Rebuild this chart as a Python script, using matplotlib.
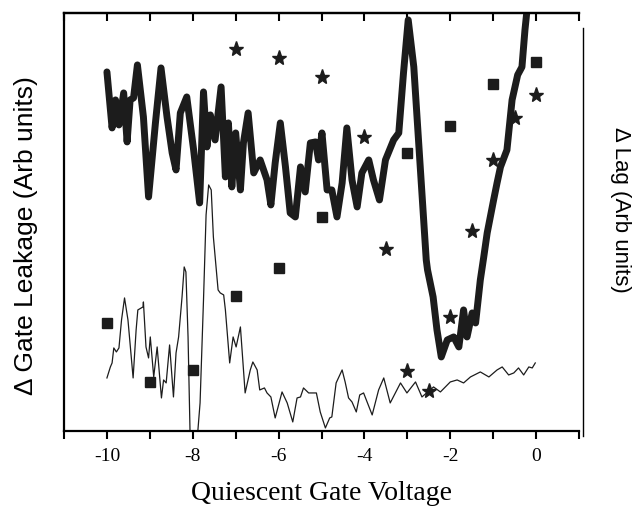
import matplotlib
matplotlib.use('Agg')
import matplotlib.pyplot as plt
import numpy as np

# thick curve: gate leakage (arb units)
leak_v = [-10.0, -9.88, -9.80, -9.72, -9.61, -9.53, -9.46, -9.38, -9.29, -9.15,
          -9.03, -8.87, -8.74, -8.60, -8.48, -8.39, -8.29, -8.14, -7.98, -7.84,
          -7.75, -7.67, -7.59, -7.48, -7.34, -7.24, -7.17, -7.09, -7.00, -6.89,
          -6.82, -6.71, -6.58, -6.43, -6.27, -6.18, -6.08, -5.96, -5.84, -5.73,
          -5.61, -5.49, -5.38, -5.26, -5.14, -5.07, -4.99, -4.87, -4.76, -4.64,
          -4.52, -4.41, -4.29, -4.17, -4.06, -3.90, -3.79, -3.65, -3.51, -3.32,
          -3.20, -3.09, -2.98, -2.85, -2.70, -2.56, -2.53, -2.40, -2.31, -2.21,
          -2.07, -1.92, -1.80, -1.69, -1.61, -1.49, -1.41, -1.30, -1.22, -1.14,
          -0.99, -0.91, -0.83, -0.68, -0.56, -0.43, -0.33, -0.26, -0.20]
leak = [359, 303, 331, 306, 338, 289, 331, 333, 366, 314,
        234, 308, 363, 314, 278, 261, 318, 334, 281, 228,
        339, 284, 316, 291, 344, 254, 308, 244, 298, 241,
        288, 318, 258, 271, 251, 226, 268, 308, 264, 218,
        214, 264, 239, 288, 289, 271, 298, 241, 241, 214,
        248, 303, 251, 224, 258, 271, 251, 231, 271, 291,
        298, 358, 411, 364, 264, 171, 161, 134, 101, 74,
        91, 94, 84, 121, 94, 118, 108, 151, 174, 198,
        231, 248, 264, 281, 331, 356, 364, 401, 426]

# thin curve
thin_v = [-10.0, -9.92, -9.88, -9.84, -9.78, -9.72, -9.66, -9.59, -9.51, -9.39,
          -9.32, -9.28, -9.16, -9.15, -9.09, -9.03, -8.99, -8.91, -8.83, -8.73,
          -8.68, -8.62, -8.54, -8.45, -8.39, -8.33, -8.25, -8.20, -8.16, -8.11,
          -8.06, -7.94, -7.88, -7.83, -7.75, -7.69, -7.63, -7.57, -7.52, -7.41,
          -7.36, -7.28, -7.24, -7.14, -7.06, -6.99, -6.89, -6.78, -6.66, -6.60,
          -6.50, -6.44, -6.33, -6.27, -6.18, -6.08, -5.92, -5.80, -5.67, -5.57,
          -5.49, -5.42, -5.30, -5.12, -5.03, -4.91, -4.81, -4.76, -4.66, -4.52,
          -4.45, -4.37, -4.29, -4.19, -4.11, -4.02, -3.82, -3.67, -3.55, -3.40,
          -3.16, -3.01, -2.81, -2.66, -2.39, -2.23, -2.00, -1.84, -1.69, -1.53,
          -1.30, -1.10, -0.91, -0.79, -0.64, -0.52, -0.41, -0.29, -0.17, -0.09,
          -0.02]
thin = [53, 64, 68, 83, 79, 83, 111, 133, 111, 53,
        101, 121, 124, 129, 84, 73, 94, 54, 84, 33,
        51, 48, 86, 34, 78, 94, 134, 164, 159, 94,
        -9, -29, 1, 28, 131, 216, 246, 241, 194, 141,
        138, 136, 121, 68, 94, 84, 104, 38, 61, 69,
        61, 41, 43, 38, 34, 13, 39, 28, 9, 33,
        34, 43, 38, 38, 19, 3, 13, 14, 48, 61,
        49, 33, 29, 19, 36, 38, 16, 41, 53, 28,
        48, 38, 49, 34, 44, 39, 49, 51, 48, 54,
        59, 54, 61, 64, 56, 58, 63, 56, 64, 63,
        68]

# lag markers
star_v = [-7.0, -6.0, -5.0, -4.0, -3.5, -3.0, -2.5, -2.0, -1.5, -1.0, -0.5, 0.0]
star_lag = [382, 373, 354, 294, 182, 60, 40, 114, 200, 271, 313, 336]
sq_v = [-10, -9, -8, -7, -6, -5, -3, -2, -1, 0]
sq_lag = [108, 49, 61, 135, 163, 214, 278, 305, 347, 369]

fig = plt.figure(figsize=(6.37, 5.07), dpi=100)
ax = fig.add_axes([0.1005, 0.15, 0.8085, 0.8245])

ax.plot(leak_v, leak, color='#1c1c1c', lw=5, solid_joinstyle='round', solid_capstyle='round')
ax.plot(thin_v, thin, color='#1c1c1c', lw=0.9)

ax.set_xlim(-11, 1)
ax.set_ylim(0, 418)

ax.spines['right'].set_visible(False)
for s in ['left', 'top', 'bottom']:
    ax.spines[s].set_linewidth(1.6)

ax.set_xticks(np.arange(-10, 1, 2))
ax.set_xticks(np.arange(-11, 2, 2), minor=True)
ax.set_xticklabels(['-10', '-8', '-6', '-4', '-2', '0'], family='Liberation Serif', fontsize=14)
ax.tick_params(axis='x', which='both', direction='out', length=6, width=1.5, pad=6)
ax.set_yticks([])

top = ax.secondary_xaxis('top')
top.set_xticks(np.arange(-10, 1, 2))
top.set_xticks(np.arange(-11, 2, 2), minor=True)
top.tick_params(axis='x', which='both', direction='in', length=6, width=1.5, labeltop=False)
top.spines['top'].set_linewidth(1.6)

ax.set_xlabel('Quiescent Gate Voltage', family='Liberation Serif', fontsize=20, labelpad=12)
ax.set_ylabel('\u0394 Gate Leakage (Arb units)', family='Liberation Sans', fontsize=19)
ax.yaxis.set_label_coords(-0.05, 0.468)

ax2 = ax.twinx()
ax2.set_ylim(ax.get_ylim())
ax2.plot(star_v, star_lag, ls='none', marker='*', ms=11, color='#1c1c1c', mec='#1c1c1c')
ax2.plot(sq_v, sq_lag, ls='none', marker='s', ms=7, color='#1c1c1c')
for s in ['left', 'top', 'bottom']:
    ax2.spines[s].set_visible(False)
ax2.spines['right'].set_position(('outward', 3))
ax2.spines['right'].set_bounds(-5, 403)
ax2.spines['right'].set_linewidth(1.0)
ax2.set_yticks([])
ax2.set_ylabel('\u0394 Lag (Arb units)', family='Liberation Sans', fontsize=16, rotation=270)
ax2.yaxis.set_label_coords(1.1, 0.53)

fig.savefig('out.png', dpi=100)
